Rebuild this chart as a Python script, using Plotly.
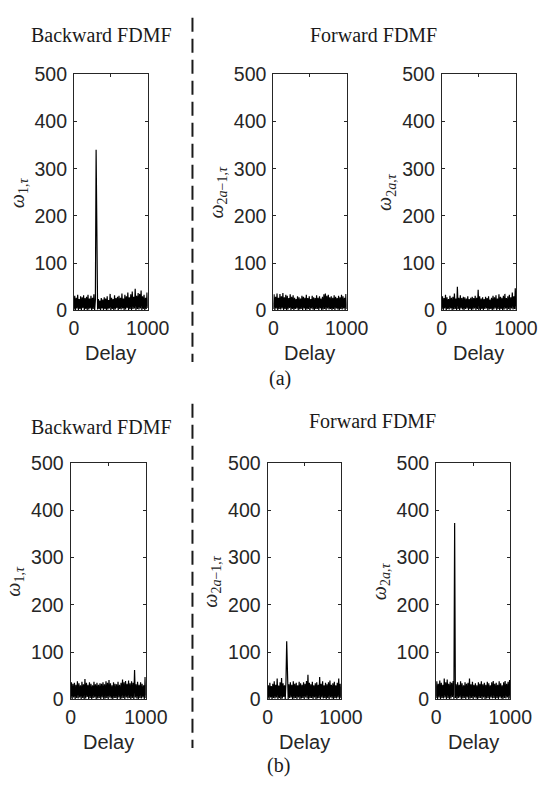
import plotly.graph_objects as go

# Delay axis sampled every 10 samples (0 .. 1000)
DELAY = list(range(0, 1001, 10))

# (a) row: backward FDMF peaks, forward branches show only noise
omega_a_back = [
    2, 31, 0, 27, 4, 33, 1, 24, 3, 30,
    1, 28, 5, 32, 0, 26, 3, 29, 1, 33,
    2, 25, 4, 31, 0, 27, 3, 34, 1, 22,
    340, 20, 2, 24, 3, 21, 0, 26, 4, 23,
    1, 28, 3, 25, 0, 30, 2, 22, 4, 35,
    1, 27, 3, 24, 0, 32, 2, 26, 5, 29,
    0, 31, 3, 27, 2, 36, 4, 25, 1, 33,
    2, 30, 5, 38, 0, 28, 3, 34, 1, 40,
    3, 29, 4, 46, 1, 31, 3, 37, 2, 35,
    4, 42, 1, 30, 3, 33, 0, 27, 3, 38,
    5]
omega_a_fwd_odd = [
    3, 34, 1, 29, 4, 36, 0, 27, 3, 35,
    2, 30, 4, 37, 1, 28, 3, 33, 0, 31,
    2, 26, 5, 34, 1, 29, 3, 32, 0, 27,
    3, 24, 4, 30, 1, 28, 2, 25, 3, 31,
    1, 29, 4, 27, 0, 33, 2, 26, 3, 30,
    1, 24, 4, 31, 2, 28, 0, 26, 3, 32,
    3, 27, 1, 30, 4, 25, 0, 29, 2, 34,
    3, 36, 1, 31, 4, 33, 2, 28, 3, 30,
    0, 27, 3, 32, 1, 29, 4, 26, 2, 31,
    1, 28, 3, 33, 2, 30, 4, 27, 1, 35,
    3]
omega_a_fwd_even = [
    3, 30, 1, 26, 4, 33, 0, 28, 3, 24,
    2, 31, 4, 27, 0, 29, 2, 36, 3, 25,
    1, 50, 3, 27, 0, 32, 4, 26, 2, 29,
    1, 28, 3, 25, 4, 30, 1, 24, 3, 27,
    0, 29, 2, 26, 4, 31, 1, 27, 3, 44,
    2, 30, 0, 25, 3, 28, 1, 24, 3, 29,
    4, 26, 1, 30, 2, 23, 3, 27, 0, 31,
    2, 28, 4, 32, 1, 25, 3, 34, 1, 29,
    3, 27, 0, 31, 2, 35, 4, 26, 1, 30,
    3, 33, 1, 28, 4, 38, 2, 30, 3, 47,
    2]

# (b) row: backward FDMF noise only, forward branches peak
omega_b_back = [
    3, 36, 1, 33, 4, 35, 0, 31, 3, 38,
    2, 34, 4, 30, 1, 37, 3, 32, 0, 43,
    2, 35, 5, 31, 1, 36, 3, 33, 0, 30,
    3, 37, 4, 32, 1, 35, 2, 31, 3, 34,
    1, 33, 4, 36, 0, 32, 2, 38, 3, 35,
    1, 41, 4, 34, 2, 30, 0, 36, 3, 33,
    3, 32, 1, 37, 4, 31, 0, 35, 2, 42,
    3, 36, 1, 39, 4, 33, 2, 40, 3, 34,
    0, 38, 3, 35, 1, 62, 4, 32, 2, 37,
    1, 31, 3, 36, 2, 33, 4, 30, 1, 47,
    3]
omega_b_fwd_odd = [
    3, 30, 1, 35, 4, 28, 0, 33, 3, 38,
    2, 31, 4, 44, 1, 29, 3, 36, 0, 45,
    2, 34, 5, 30, 1, 37, 123, 40, 0, 32,
    3, 36, 4, 31, 1, 38, 2, 33, 3, 35,
    1, 30, 4, 37, 0, 34, 2, 31, 3, 36,
    1, 33, 4, 39, 2, 52, 0, 35, 3, 32,
    3, 37, 1, 30, 4, 34, 0, 36, 2, 31,
    3, 47, 1, 33, 4, 38, 2, 30, 3, 35,
    0, 32, 3, 36, 1, 40, 4, 31, 2, 34,
    1, 37, 3, 30, 2, 35, 4, 44, 1, 33,
    3]
omega_b_fwd_even = [
    3, 38, 1, 33, 4, 40, 0, 35, 3, 31,
    2, 44, 4, 36, 1, 42, 3, 33, 0, 37,
    2, 35, 5, 39, 1, 373, 3, 32, 0, 36,
    3, 31, 4, 38, 1, 34, 2, 30, 3, 36,
    1, 33, 4, 35, 0, 44, 2, 32, 3, 37,
    1, 31, 4, 34, 2, 30, 0, 36, 3, 33,
    3, 38, 1, 32, 4, 35, 0, 31, 2, 37,
    3, 34, 1, 30, 4, 36, 2, 39, 3, 33,
    0, 35, 3, 31, 1, 38, 4, 34, 2, 30,
    1, 36, 3, 39, 2, 33, 4, 37, 1, 41,
    3]

Y_TICKS = [0, 100, 200, 300, 400, 500]
X_TICKS = [0, 500, 1000]
X_TICK_TEXT = ["0", "", "1000"]

Y_LABELS = [
    "<i>ω</i><sub>1,<i>τ</i></sub>",
    "<i>ω</i><sub>2<i>a</i>−1,<i>τ</i></sub>",
    "<i>ω</i><sub>2<i>a</i>,<i>τ</i></sub>",
]

W, H = 558, 792

# panel boxes in pixels: (left, right, top, bottom)
panels = [
    (omega_a_back, (72.5, 150, 65, 308), Y_LABELS[0]),
    (omega_a_fwd_odd, (282, 359, 65, 308), Y_LABELS[1]),
    (omega_a_fwd_even, (459, 537, 65, 308), Y_LABELS[2]),
    (omega_b_back, (69, 148, 465, 708), Y_LABELS[0]),
    (omega_b_fwd_odd, (276, 353, 465, 708), Y_LABELS[1]),
    (omega_b_fwd_even, (453, 531, 465, 708), Y_LABELS[2]),
]

AX = "#262626"
TICK_FONT = dict(family="Liberation Sans, Arial, sans-serif", size=19.5, color=AX)
SERIF = "Liberation Serif, Times New Roman, serif"

fig = go.Figure()
layout = dict(
    width=W, height=H,
    margin=dict(l=0, r=0, t=0, b=0),
    paper_bgcolor="white", plot_bgcolor="white",
    showlegend=False,
)
annotations = []
shapes = []

for i, (vals, (l, r, t, b), ylab) in enumerate(panels, start=1):
    sfx = "" if i == 1 else str(i)
    fig.add_trace(go.Scatter(
        x=DELAY, y=vals, mode="lines",
        line=dict(color="black", width=1.2),
        xaxis="x" + sfx, yaxis="y" + sfx,
        hoverinfo="skip",
    ))
    common = dict(
        showline=True, linecolor=AX, linewidth=1.2, mirror="ticks",
        ticks="inside", ticklen=3, tickcolor=AX, tickwidth=1,
        showgrid=False, zeroline=False, tickfont=TICK_FONT,
    )
    layout["xaxis" + sfx] = dict(
        domain=[l / W, r / W], anchor="y" + sfx, range=[0, 1000],
        tickvals=X_TICKS, ticktext=X_TICK_TEXT, ticklabelstandoff=0, **common,
    )
    layout["yaxis" + sfx] = dict(
        domain=[1 - b / H, 1 - t / H], anchor="x" + sfx, range=[0, 500],
        tickvals=Y_TICKS, ticklabelstandoff=2, **common,
    )
    # x axis title
    annotations.append(dict(
        text="Delay", x=(l + r) / 2 / W, y=1 - (b + 44) / H,
        xref="paper", yref="paper", xanchor="center", yanchor="middle",
        showarrow=False, font=dict(family=TICK_FONT["family"], size=20, color=AX),
    ))
    # y axis title
    annotations.append(dict(
        text=ylab, x=(l - 59) / W, y=1 - ((t + b) / 2) / H,
        xref="paper", yref="paper", xanchor="center", yanchor="middle",
        textangle=-90, showarrow=False,
        font=dict(family=SERIF, size=20, color=AX),
    ))

# section headings and sub-figure captions
for text, cx, cy, size in [
    ("Backward FDMF", 101, 25, 20),
    ("Forward FDMF", 387, 25, 20),
    ("Backward FDMF", 101, 428, 20),
    ("Forward FDMF", 386, 422, 20),
    ("(a)", 289, 378, 20),
    ("(b)", 287, 776, 20),
]:
    annotations.append(dict(
        text=text, x=cx / W, y=1 - cy / H, xref="paper", yref="paper",
        xanchor="center", yanchor="middle", showarrow=False,
        font=dict(family=SERIF, size=size, color="#1a1a1a"),
    ))

# dashed separators between backward and forward panels
for y0, y1 in [(7, 361), (404, 758)]:
    shapes.append(dict(
        type="line", xref="paper", yref="paper",
        x0=197 / W, x1=197 / W, y0=1 - y0 / H, y1=1 - y1 / H,
        line=dict(color="#1a1a1a", width=2, dash="14px,7px"),
    ))

layout["annotations"] = annotations
layout["shapes"] = shapes
fig.update_layout(**layout)
fig.write_html("out.html")
